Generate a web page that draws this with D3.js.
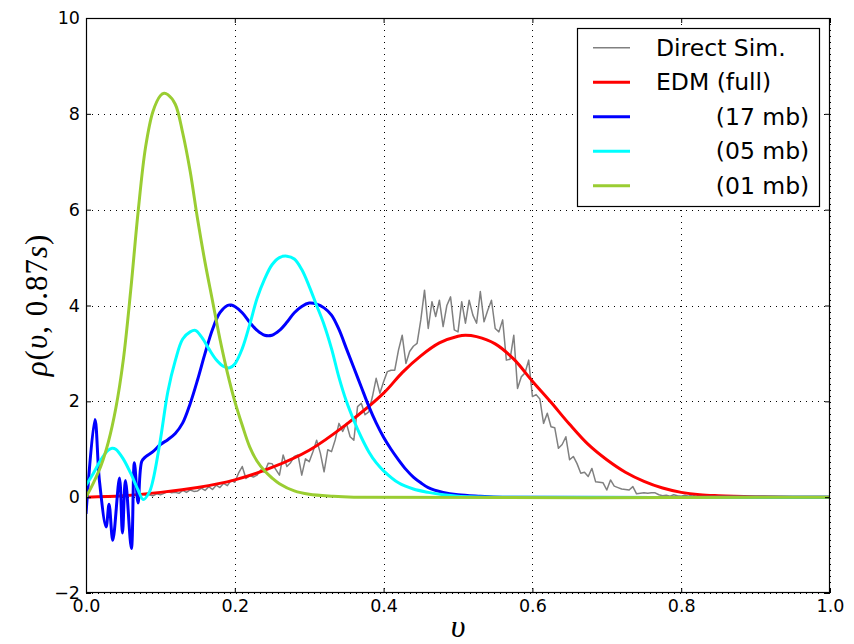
<!DOCTYPE html>
<html><head><meta charset="utf-8">
<script src="https://cdn.jsdelivr.net/npm/d3@7"></script>
<style>body{margin:0;background:#fff}svg{display:block}</style>
</head><body>
<svg id="chart" width="854" height="644"></svg>
<script>
// ---- data ----
const xTicks = [0, 0.2, 0.4, 0.6, 0.8, 1.0];
const xTickLabels = ["0.0", "0.2", "0.4", "0.6", "0.8", "1.0"];
const yTicks = [-2, 0, 2, 4, 6, 8, 10];
const yTickLabels = ["\u22122", "0", "2", "4", "6", "8", "10"];

const seriesNames = ["Direct Sim.", "EDM (full)", "        (17 mb)", "        (05 mb)", "        (01 mb)"];
const seriesColors = ["#808080", "#ff0000", "#0000ff", "#00ffff", "#9acd32"];

// Direct simulation histogram, bins of 0.005 from 0 to 1
const simStep = 0.005;
const simY = [
 0, 0, 0.01, 0, 0.01, 0.02, 0.01, 0.02, 0.02, 0.03,
 0.02, 0.04, 0.03, 0.05, 0.03, 0.06, 0.04, 0.05, 0.03, 0.07,
 0.05, 0.08, 0.12, 0.09, 0.1, 0.08, 0.14, 0.1, 0.15, 0.12,
 0.13, 0.19, 0.14, 0.22, 0.16, 0.25, 0.2, 0.29, 0.24, 0.35,
 0.31, 0.5, 0.64, 0.39, 0.45, 0.42, 0.46, 0.57, 0.52, 0.71,
 0.7, 0.58, 0.46, 0.88, 0.64, 0.72, 0.85, 0.88, 0.46, 0.8,
 0.74, 0.95, 1.19, 0.92, 0.53, 0.99, 0.95, 1.2, 1.54, 1.37,
 1.54, 1.26, 1.19, 1.89, 1.96, 1.72, 1.78, 2.1, 2.48, 2.17,
 2.41, 2.62, 2.65, 2.65, 3.07, 3.38, 2.79, 3.04, 3.15, 3.21,
 3.7, 4.32, 3.52, 4.08, 3.77, 4.11, 3.56, 4.0, 4.18, 3.49,
 3.45, 4.08, 3.63, 4.11, 3.8, 3.63, 4.29, 3.66, 3.9, 4.11,
 3.52, 3.45, 3.7, 2.86, 2.88, 3.38, 2.27, 2.51, 2.59, 2.86,
 2.1, 2.14, 2.05, 1.54, 1.75, 1.47, 1.45, 1.02, 1.1, 1.26,
 0.78, 0.85, 0.7, 0.5, 0.52, 0.43, 0.6, 0.32, 0.31, 0.3,
 0.15, 0.36, 0.23, 0.2, 0.17, 0.16, 0.15, 0.22, 0.07, 0.08,
 0.09, 0.08, 0.09, 0.09, 0.05, 0.03, 0.04, 0.02, 0.05, 0.03,
 0.02, 0.04, 0.02, 0.05, 0.01, 0.03, 0.01, 0.02, 0.01, 0.03,
 0, 0.01, 0, 0.01, 0, 0, 0.01, 0, 0, 0,
 0, 0, 0.01, 0, 0, 0, 0, 0, 0, 0,
 0, 0, 0, 0, 0, 0, 0, 0, 0, 0,
 0
];

const edmX = [0, 0.05, 0.10, 0.15, 0.20, 0.25, 0.30, 0.35, 0.40, 0.425, 0.45, 0.475, 0.50, 0.51, 0.525, 0.55, 0.575, 0.60, 0.625, 0.65, 0.675, 0.70, 0.725, 0.75, 0.775, 0.80, 0.825, 0.85, 0.90, 0.95, 1.0];
const edmY = [0, 0.03, 0.1, 0.2, 0.36, 0.62, 0.98, 1.52, 2.17, 2.6, 2.95, 3.22, 3.36, 3.38, 3.35, 3.2, 2.88, 2.42, 1.98, 1.52, 1.1, 0.78, 0.52, 0.33, 0.19, 0.1, 0.05, 0.03, 0.01, 0, 0];

const mb17X = [0, 0.012, 0.018, 0.027, 0.031, 0.036, 0.045, 0.049, 0.053, 0.061, 0.065, 0.070, 0.075, 0.08, 0.09, 0.10, 0.11, 0.12, 0.13, 0.14, 0.15, 0.16, 0.17, 0.18, 0.19, 0.195, 0.20, 0.21, 0.22, 0.23, 0.24, 0.25, 0.26, 0.27, 0.28, 0.29, 0.30, 0.31, 0.32, 0.33, 0.34, 0.35, 0.36, 0.37, 0.38, 0.39, 0.40, 0.41, 0.42, 0.43, 0.44, 0.45, 0.46, 0.48, 0.50, 0.53, 0.56, 1.0];
const mb17Y = [-0.35, 1.62, 0.35, -0.62, -0.15, -0.9, 0.4, -0.75, 0.35, -1.07, 0.72, -0.12, 0.75, 0.84, 0.95, 1.1, 1.2, 1.33, 1.55, 1.95, 2.45, 3.0, 3.5, 3.85, 4.0, 4.01, 3.98, 3.85, 3.65, 3.48, 3.38, 3.38, 3.48, 3.65, 3.85, 3.98, 4.05, 4.03, 3.95, 3.8, 3.5, 3.1, 2.7, 2.3, 1.9, 1.55, 1.25, 1.0, 0.78, 0.58, 0.42, 0.3, 0.2, 0.1, 0.05, 0.02, 0, 0];

const mb05X = [0, 0.01, 0.02, 0.03, 0.035, 0.04, 0.05, 0.06, 0.07, 0.077, 0.085, 0.09, 0.10, 0.11, 0.12, 0.13, 0.14, 0.147, 0.155, 0.165, 0.175, 0.185, 0.193, 0.20, 0.21, 0.22, 0.23, 0.24, 0.25, 0.26, 0.27, 0.28, 0.29, 0.30, 0.31, 0.32, 0.33, 0.34, 0.35, 0.36, 0.37, 0.38, 0.39, 0.40, 0.42, 0.44, 0.46, 0.48, 0.50, 0.55, 1.0];
const mb05Y = [0.25, 0.5, 0.78, 0.98, 1.02, 1.0, 0.8, 0.5, 0.15, -0.05, 0.1, 0.35, 1.2, 2.2, 2.85, 3.3, 3.45, 3.48, 3.35, 3.1, 2.87, 2.73, 2.7, 2.78, 3.1, 3.6, 4.15, 4.55, 4.85, 5.0, 5.03, 4.97, 4.75, 4.4, 4.0, 3.6, 3.1, 2.5, 2.0, 1.6, 1.25, 0.95, 0.72, 0.55, 0.3, 0.17, 0.1, 0.05, 0.02, 0, 0];

const mb01X = [0, 0.01, 0.02, 0.03, 0.04, 0.05, 0.06, 0.07, 0.08, 0.09, 0.10, 0.105, 0.11, 0.12, 0.13, 0.14, 0.15, 0.16, 0.17, 0.18, 0.19, 0.20, 0.21, 0.22, 0.23, 0.24, 0.25, 0.26, 0.28, 0.30, 0.33, 0.36, 1.0];
const mb01Y = [0, 0.3, 0.65, 1.15, 1.85, 2.85, 4.3, 5.95, 7.3, 8.05, 8.38, 8.43, 8.4, 8.2, 7.6, 6.8, 5.8, 4.9, 4.1, 3.3, 2.6, 2.0, 1.5, 1.05, 0.75, 0.55, 0.4, 0.28, 0.13, 0.06, 0.02, 0, 0];

// ---- chart ----
const svg = d3.select("#chart");
const L = 86, R = 830, T = 18, B = 593;
const x = d3.scaleLinear().domain([0, 1]).range([L, R]);
const y = d3.scaleLinear().domain([-2, 10]).range([B, T]);

svg.append("defs").append("clipPath").attr("id", "clip")
  .append("rect").attr("x", L).attr("y", T).attr("width", R - L).attr("height", B - T);

// grid
const grid = svg.append("g");
grid.selectAll(".gx").data(xTicks).enter().append("line")
  .attr("x1", d => Math.round(x(d)) + 0.5).attr("x2", d => Math.round(x(d)) + 0.5)
  .attr("y1", T).attr("y2", B)
  .attr("stroke", "#000").attr("stroke-width", 1).attr("stroke-dasharray", "1,5");
grid.selectAll(".gy").data(yTicks).enter().append("line")
  .attr("y1", d => Math.round(y(d)) + 0.5).attr("y2", d => Math.round(y(d)) + 0.5)
  .attr("x1", L).attr("x2", R)
  .attr("stroke", "#000").attr("stroke-width", 1).attr("stroke-dasharray", "1,5");

// series
const plot = svg.append("g").attr("clip-path", "url(#clip)");
const simData = simY.map((v, i) => [i * simStep, v]);
const zip = (xs, ys) => xs.map((v, i) => [v, ys[i]]);
const lineLin = d3.line().x(d => x(d[0])).y(d => y(d[1]));
const lineSmooth = d3.line().x(d => x(d[0])).y(d => y(d[1])).curve(d3.curveCatmullRom.alpha(0.5));

plot.append("path").attr("d", lineLin(simData)).attr("fill", "none")
  .attr("stroke", seriesColors[0]).attr("stroke-width", 1.5).attr("stroke-linejoin", "round");
const smoothSeries = [zip(edmX, edmY), zip(mb17X, mb17Y), zip(mb05X, mb05Y), zip(mb01X, mb01Y)];
smoothSeries.forEach((s, i) => {
  plot.append("path").attr("d", lineSmooth(s)).attr("fill", "none")
    .attr("stroke", seriesColors[i + 1]).attr("stroke-width", 3).attr("stroke-linejoin", "round");
});

// axes
const font = "'DejaVu Sans', sans-serif";
const fs = 17.5;
function styleAxis(g) {
  g.select(".domain").remove();
  g.selectAll("line").attr("stroke", "#000").attr("stroke-width", 1);
  g.selectAll("text").attr("font-family", font).attr("font-size", fs).attr("fill", "#000");
}
svg.append("g").attr("transform", `translate(0,${B})`)
  .call(d3.axisBottom(x).tickValues(xTicks).tickFormat((d, i) => xTickLabels[i]).tickSizeInner(-5).tickSizeOuter(0).tickPadding(7))
  .call(styleAxis);
svg.append("g").attr("transform", `translate(${L},0)`)
  .call(d3.axisLeft(y).tickValues(yTicks).tickFormat((d, i) => yTickLabels[i]).tickSizeInner(-5).tickSizeOuter(0).tickPadding(6))
  .call(styleAxis);
svg.append("g").attr("transform", `translate(0,${T})`)
  .call(d3.axisTop(x).tickValues(xTicks).tickFormat("").tickSizeInner(-5).tickSizeOuter(0))
  .call(styleAxis);
svg.append("g").attr("transform", `translate(${R},0)`)
  .call(d3.axisRight(y).tickValues(yTicks).tickFormat("").tickSizeInner(-5).tickSizeOuter(0))
  .call(styleAxis);

// frame
svg.append("rect").attr("x", L + 0.5).attr("y", T + 0.5).attr("width", R - L - 1).attr("height", B - T - 1)
  .attr("fill", "none").attr("stroke", "#000").attr("stroke-width", 1.2);

// axis labels
svg.append("text").attr("x", (L + R) / 2).attr("y", 637).attr("text-anchor", "middle")
  .attr("font-family", "'Liberation Serif', serif").attr("font-style", "italic").attr("font-size", 32)
  .text("\u03C5");
const yl = svg.append("text").attr("transform", "translate(47,305) rotate(-90)").attr("text-anchor", "middle")
  .attr("font-family", "'Liberation Serif', serif").attr("font-size", 31).attr("letter-spacing", 1);
yl.append("tspan").attr("font-style", "italic").text("\u03C1");
yl.append("tspan").text("(");
yl.append("tspan").attr("font-style", "italic").text("\u03C5");
yl.append("tspan").text(", 0.87");
yl.append("tspan").attr("font-style", "italic").text("s");
yl.append("tspan").text(")");

// legend
const lg = svg.append("g");
lg.append("rect").attr("x", 577.5).attr("y", 28.5).attr("width", 242).attr("height", 178)
  .attr("fill", "#fff").attr("stroke", "#000").attr("stroke-width", 1.2);
seriesNames.forEach((name, i) => {
  const cy = 47.7 + 34.5 * i;
  lg.append("line").attr("x1", 593).attr("x2", 630).attr("y1", cy).attr("y2", cy)
    .attr("stroke", seriesColors[i]).attr("stroke-width", i === 0 ? 1.5 : 3);
  lg.append("text").attr("x", 656).attr("y", cy).attr("dy", "0.35em")
    .attr("xml:space", "preserve").style("white-space", "pre")
    .attr("font-family", font).attr("font-size", 23.5).attr("fill", "#000").text(name);
});
</script>
</body></html>
